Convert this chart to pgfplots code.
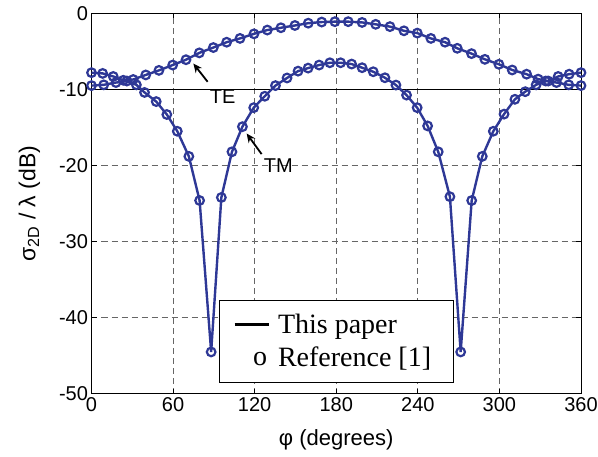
\documentclass[border=0pt]{standalone}
\usepackage{fontspec}
\setmainfont{Liberation Sans}
\newfontfamily\serif{Liberation Serif}
\usepackage{pgfplots}
\pgfplotsset{compat=1.18}
\usetikzlibrary{arrows.meta}
\definecolor{cblue}{RGB}{46,56,150}

\begin{document}
\begin{tikzpicture}
\begin{axis}[
  scale only axis, width=489.5pt, height=380.5pt,
  xmin=0, xmax=360, ymin=-50, ymax=0,
  xtick={0,60,...,360}, ytick={-50,-40,...,0},
  tick align=inside, tick pos=both,
  major tick length=5pt,
  grid=major,
  major grid style={black!60, line width=0.8pt, dash pattern=on 6pt off 4pt},
  axis line style={line width=1pt, black},
  tick style={line width=0.9pt, black},
  ticklabel style={font=\fontsize{20}{24}\selectfont},
  /pgf/number format/assume math mode=true,
  xlabel={φ (degrees)},
  ylabel={σ\textsubscript{2D} / λ (dB)},
  xlabel style={font=\fontsize{22}{26}\selectfont, yshift=-11pt},
  ylabel style={font=\fontsize{23}{27}\selectfont, yshift=12pt},
  legend style={draw=black, line width=0.9pt, fill=white,
    at={(axis cs:93.75,-48.55)}, anchor=south west,
    font=\serif\fontsize{28}{33}\selectfont,
    inner xsep=14pt, inner ysep=12pt, row sep=8pt,
    nodes={inner xsep=8pt}},
  legend cell align=left,
]
\addlegendimage{legend image code/.code={\draw[black, line width=2.6pt] (0pt,0pt) -- (34pt,0pt);}}
\addlegendentry{This paper}
\addlegendimage{legend image code/.code={\node[font=\serif\fontsize{28}{33}\selectfont, inner sep=0pt] at (18pt,-2pt) {o};}}
\addlegendentry{Reference [1]}

\addplot[black, line width=1pt, forget plot] coordinates {(0,-10) (360,-10)};

% TE
\addplot[cblue, line width=2.4pt, mark=o, mark size=4.3pt, mark options={line width=2.2pt}, forget plot] coordinates {
(0,-7.8) (8.2,-7.9) (16,-8.3) (23.4,-8.8) (30.7,-8.7) (39.9,-8.1) (49.6,-7.5) (59.7,-6.8) (69.5,-6.1) (79.3,-5.2)
(89.6,-4.5) (99.4,-3.8) (109.2,-3.3) (119.5,-2.7) (129.3,-2.2) (139.3,-1.9) (149.6,-1.6) (159.4,-1.3) (169.3,-1.15) (179,-1.1)
(188.8,-1.1) (199,-1.2) (209,-1.45) (219.5,-1.75) (229.8,-2.3) (239.6,-2.6) (249.6,-3.3) (260,-3.8) (269,-4.6) (279.5,-5.3)
(289.3,-6.05) (299.6,-6.7) (309.4,-7.45) (320,-8.0) (328.5,-8.65) (335.9,-8.9) (343.2,-8.3) (351.3,-8.0) (360,-7.8)
};

% TM
\addplot[cblue, line width=2.4pt, mark=o, mark size=4.3pt, mark options={line width=2.2pt}, forget plot] coordinates {
(0,-9.5) (9,-9.4) (18,-9.1) (26,-8.9) (33,-9.4) (39,-10.4) (47.6,-11.6) (55.4,-13.3) (63.1,-15.5) (71.6,-18.8)
(79.5,-24.6) (88,-44.5) (95.5,-24.2) (103.3,-18.2) (111,-14.9) (119.3,-12.4) (127.4,-10.9) (135.3,-9.5) (143.8,-8.5) (151.9,-7.6)
(159.3,-7.2) (167.4,-6.8) (175.3,-6.5) (183.2,-6.5) (191.3,-6.67) (199,-7.15) (207.2,-7.68) (215.8,-8.47) (223.9,-9.43) (231.7,-10.75)
(239.5,-12.4) (247.2,-14.8) (255,-18.2) (263.6,-24.1) (271.5,-44.5) (279.6,-24.6) (287.4,-18.8) (295.5,-15.5) (303.4,-13.25) (311.4,-11.3)
(319,-10.3) (327,-9.4) (334,-8.9) (342,-9.1) (351,-9.4) (360,-9.5)
};

\draw[black, line width=1.8pt, -{Stealth[length=9pt, width=8pt]}] (axis cs:85.4,-9.0) -- (axis cs:74.9,-6.6);
\node[font=\fontsize{20}{24}\selectfont] at (axis cs:96.5,-11) {TE};
\draw[black, line width=1.8pt, -{Stealth[length=9pt, width=8pt]}] (axis cs:125.1,-18.5) -- (axis cs:114.1,-15.8);
\node[font=\fontsize{20}{24}\selectfont] at (axis cs:137.4,-20) {TM};
\end{axis}
\pgfresetboundingbox
\path[use as bounding box] ([xshift=-91.5pt,yshift=-62.5pt]current axis.south west) rectangle ([xshift=17pt,yshift=13.3pt]current axis.north east);
\end{tikzpicture}
\end{document}
